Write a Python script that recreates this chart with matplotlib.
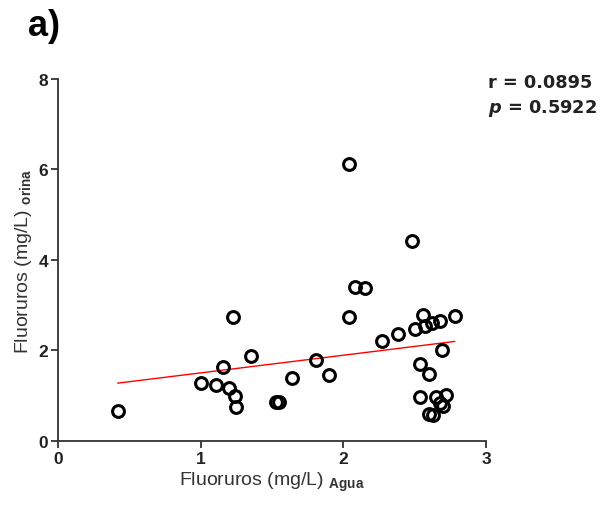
import matplotlib
matplotlib.use("Agg")
import matplotlib.pyplot as plt
import numpy as np

# fluoride in water (x) vs urine (y), mg/L
agua = [0.42, 1.00, 1.11, 1.16, 1.20, 1.23, 1.24, 1.25, 1.35, 1.53, 1.55,
        1.64, 1.81, 1.90, 2.04, 2.48, 2.08, 2.15, 2.04, 2.27, 2.38, 2.50,
        2.56, 2.57, 2.62, 2.68, 2.78, 2.69, 2.54, 2.60, 2.54, 2.65, 2.72,
        2.68, 2.70, 2.60, 2.63]
orina = [0.66, 1.28, 1.24, 1.64, 1.17, 2.74, 1.00, 0.75, 1.88, 0.86, 0.86,
         1.39, 1.79, 1.46, 6.13, 4.42, 3.41, 3.38, 2.75, 2.22, 2.37, 2.48,
         2.79, 2.55, 2.61, 2.65, 2.76, 2.02, 1.70, 1.48, 0.97, 0.97, 1.02,
         0.84, 0.78, 0.60, 0.58]

# regression line as drawn in the original
slope = 0.39
intercept = 1.115
r_value = "0.0895"
p_value = "0.5922"

sans = ["Liberation Sans", "DejaVu Sans"]
plt.rcParams["mathtext.fontset"] = "custom"
plt.rcParams["mathtext.rm"] = "Liberation Sans"
plt.rcParams["mathtext.it"] = "DejaVu Sans:italic:bold"
plt.rcParams["mathtext.bf"] = "Liberation Sans:bold"

fig = plt.figure(figsize=(6.06, 5.06), dpi=100)
ax = fig.add_axes([0.0957, 0.1265, 0.7063, 0.7155])

ax.plot(agua, orina, "o", ms=8.5, mfc="none", mec="black", mew=2.2,
        clip_on=False, zorder=3)

xs = np.array([min(agua), max(agua)])
ax.plot(xs, slope * xs + intercept, color="red", lw=1.0, zorder=2)

ax.set_xlim(0, 3)
ax.set_ylim(0, 8)
ax.set_xticks([0, 1, 2, 3])
ax.set_yticks([0, 2, 4, 6, 8])
for s in ["top", "right"]:
    ax.spines[s].set_visible(False)
for s in ["left", "bottom"]:
    ax.spines[s].set_linewidth(1.3)
    ax.spines[s].set_color("#333333")
ax.tick_params(length=5, width=1.3, color="#333333", pad=2)
for lab in ax.get_xticklabels() + ax.get_yticklabels():
    lab.set_fontfamily(sans)
    lab.set_fontweight("bold")
    lab.set_fontsize(12.5)
    lab.set_color("#222222")

ax.set_xlabel(r"Fluoruros (mg/L) $_{\mathbf{Agua}}$", family=sans,
              fontsize=14, color="#333333", labelpad=3)
ax.set_ylabel(r"Fluoruros (mg/L) $_{\mathbf{orina}}$", family=sans,
              fontsize=14, color="#333333", labelpad=3)

fig.text(0.046, 0.929, "a)", fontsize=26, fontweight="bold",
         family=sans, va="baseline")
fig.text(0.805, 0.826, "r = " + r_value, fontsize=12.8, fontweight="bold",
         family="DejaVu Sans", color="#222222", va="baseline")
fig.text(0.805, 0.777, r"$\it{p}$ = " + p_value, fontsize=12.8,
         fontweight="bold", family="DejaVu Sans", color="#222222",
         va="baseline")

fig.savefig("out.png", dpi=100)
